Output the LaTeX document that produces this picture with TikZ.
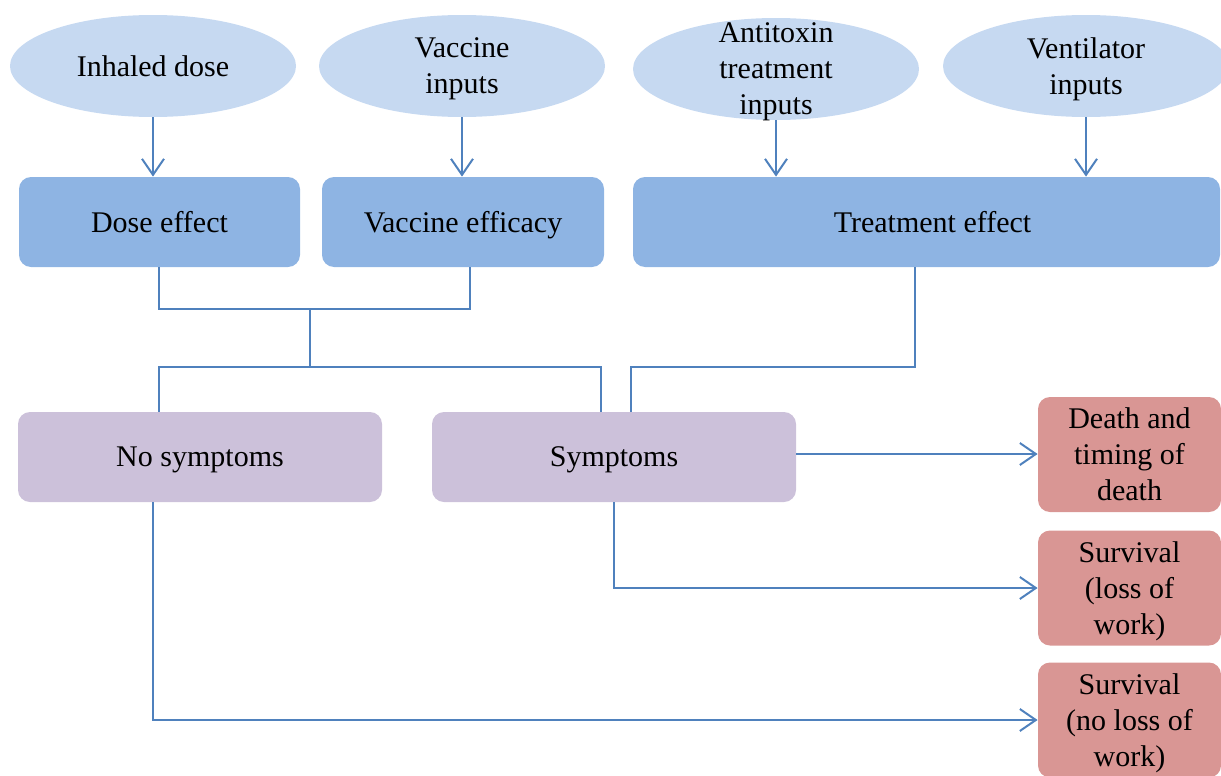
\documentclass[tikz,border=0pt]{standalone}
\usepackage{fontspec}
\setmainfont{Liberation Serif}
\usetikzlibrary{shapes.geometric,arrows.meta,calc}
\definecolor{ellfill}{HTML}{C6D9F1}
\definecolor{effill}{HTML}{8EB4E3}
\definecolor{symfill}{HTML}{CCC1DA}
\definecolor{outfill}{HTML}{D99694}
\definecolor{linkcol}{HTML}{4F81BD}
\begin{document}
\begin{tikzpicture}[x=0.5pt,y=-0.5pt,
  every node/.style={font=\fontsize{15pt}{18pt}\selectfont, align=center, inner sep=0pt, text depth=0pt},
  inputell/.style={ellipse, fill=ellfill, minimum width=143pt, minimum height=51pt, inner sep=-10pt},
  effbox/.style={rectangle, rounded corners=6pt, fill=effill, minimum height=45pt},
  symbox/.style={rectangle, rounded corners=6pt, fill=symfill, minimum width=182pt, minimum height=45pt},
  outbox/.style={rectangle, rounded corners=6pt, fill=outfill, minimum width=91.5pt, minimum height=57.5pt},
  conn/.style={draw=linkcol, line width=1pt},
  arr/.style={conn, -{Straight Barb[length=8pt,width=11pt]}}
]
\useasboundingbox (0,0) rectangle (1221,776);

% input ellipses
\node[inputell] (inh) at (153,66) {Inhaled dose};
\node[inputell] (vin) at (462,66) {Vaccine\\inputs};
\node[inputell] (ati) at (776,69) {Antitoxin\\treatment\\inputs};
\node[inputell] (ven) at (1086,66) {Ventilator\\inputs};

% effect boxes
\node[effbox, minimum width=140.5pt] (dose) at (159.5,222) {Dose effect};
\node[effbox, minimum width=141pt] (veff) at (463,222) {Vaccine efficacy};
\node[effbox, minimum width=293.5pt] (treat) at (926.5,222) {\hspace{6pt}Treatment effect};

% symptom boxes
\node[symbox] (nosym) at (200,457) {No symptoms};
\node[symbox] (sym) at (614,457) {Symptoms};

% outcome boxes
\node[outbox] (death) at (1129.5,454.5) {Death and\\timing of\\death};
\node[outbox] (surv1) at (1129.5,588) {Survival\\(loss of\\work)};
\node[outbox] (surv2) at (1129.5,720) {Survival\\(no loss of\\work)};

% inputs into effects
\draw[arr] (inh.south) -- (inh.south |- dose.north);
\draw[arr] (vin.south) -- (vin.south |- veff.north);
\draw[arr] (ati.south) -- (ati.south |- treat.north);
\draw[arr] (ven.south) -- (ven.south |- treat.north);

% dose and vaccine combine
\coordinate (j1) at (310,309);
\coordinate (j2) at (310,367);
\draw[conn] ([xshift=-0.25pt]dose.south) |- (j1) -| ([xshift=3.5pt]veff.south);
\draw[conn] (j1) -- (j2);
\draw[conn] ([xshift=-20.5pt]nosym.north) |- (j2) -| ([xshift=-6.5pt]sym.north);

% treatment into symptoms
\coordinate (j3) at (915,367);
\draw[conn] (j3 |- treat.south) -- (j3) -| ([xshift=8.5pt]sym.north);

% outcomes
\draw[arr] ([yshift=1.5pt]sym.east) -- ([yshift=1.5pt]sym.east -| death.west);
\draw[arr] (sym.south) |- (surv1.west);
\draw[arr] ([xshift=-23.5pt]nosym.south) |- (surv2.west);
\end{tikzpicture}
\end{document}
